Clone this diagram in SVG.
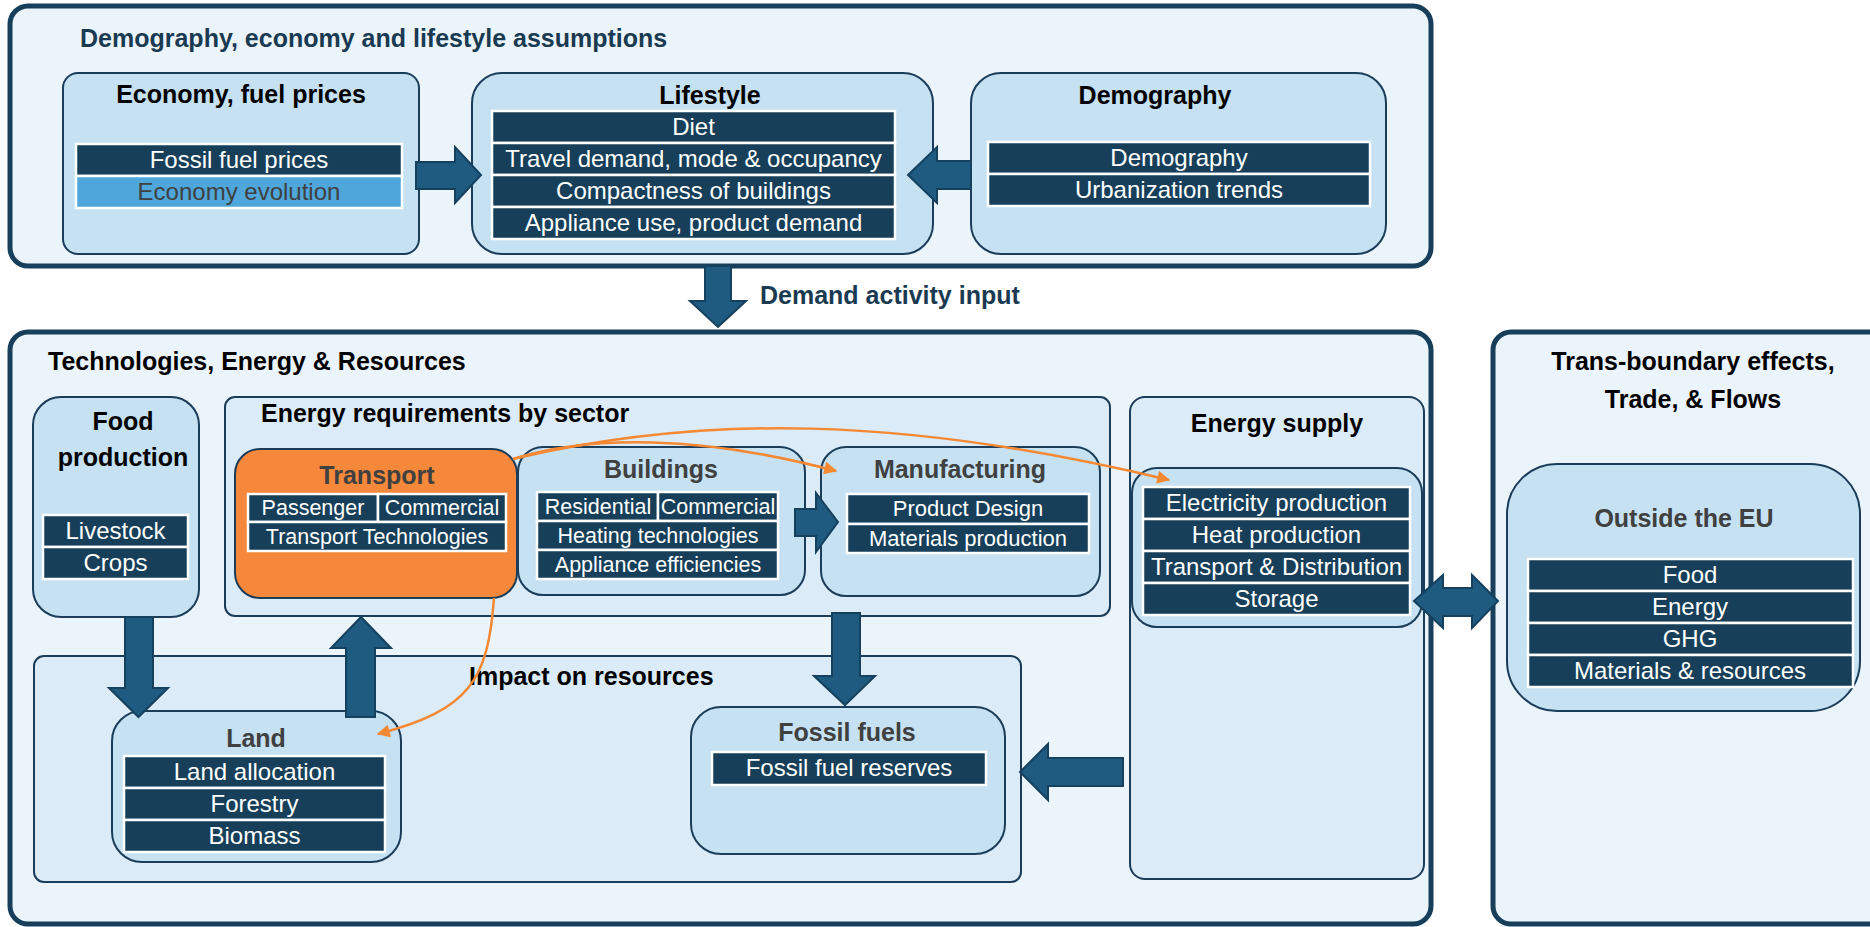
<svg xmlns="http://www.w3.org/2000/svg" width="1870" height="927" viewBox="0 0 1870 927">
<defs>
<style>
.outer{fill:#ebf4fb;stroke:#173f5c;stroke-width:5}
.sub{fill:#dbebf7;stroke:#1b3d5a;stroke-width:2}
.node{fill:#c5e1f2;stroke:#1b3d5a;stroke-width:2}
.orangebox{fill:#f5883a;stroke:#1b3d5a;stroke-width:2}
.row{fill:#173f5a;stroke:#ffffff;stroke-width:2.5}
.rowl{fill:#4ea6da;stroke:#ffffff;stroke-width:2.5}
text{font-family:"Liberation Sans",Arial,sans-serif}
.rt{fill:#ffffff;font-size:24px;text-anchor:middle}
.rs{fill:#ffffff;font-size:21.5px;text-anchor:middle}
.t{font-weight:bold;font-size:25px;fill:#000000}
.c{text-anchor:middle}
.g{fill:#404040}
.navy{fill:#1a3a52}
.big{fill:#1f5a80;stroke:#15405e;stroke-width:2;stroke-linejoin:miter}
.or{fill:none;stroke:#f58833;stroke-width:2.5;marker-end:url(#oh)}
</style>
<marker id="oh" viewBox="0 0 10 10" refX="9" refY="5" markerWidth="16" markerHeight="13" markerUnits="userSpaceOnUse" orient="auto">
<path d="M0,0 L10,5 L0,10 z" fill="#f58833"/>
</marker>
</defs>

<!-- Containers -->
<g id="assumptions">
<rect class="outer" x="10" y="6" width="1421" height="260" rx="18"/>
<text class="t navy" x="80" y="47">Demography, economy and lifestyle assumptions</text>
</g>
<g id="technologies">
<rect class="outer" x="10" y="332" width="1421" height="592" rx="18"/>
<text class="t" x="48" y="370">Technologies, Energy &amp; Resources</text>
</g>
<g id="transboundary">
<rect class="outer" x="1493" y="332" width="420" height="592" rx="18"/>
<text class="t c" x="1693" y="370">Trans-boundary effects,</text>
<text class="t c" x="1693" y="408">Trade, &amp; Flows</text>
</g>

<!-- Top nodes -->
<g id="economy">
<rect class="node" x="63" y="73" width="356" height="181" rx="15"/>
<text class="t c" x="241" y="103">Economy, fuel prices</text>
<rect class="row" x="76" y="144" width="326" height="32"/>
<rect class="rowl" x="76" y="176" width="326" height="32"/>
<text class="rt" x="239" y="168">Fossil fuel prices</text>
<text class="rt g" x="239" y="200">Economy evolution</text>
</g>

<g id="lifestyle">
<rect class="node" x="472" y="73" width="461" height="181" rx="30"/>
<text class="t c" x="710" y="104">Lifestyle</text>
<rect class="row" x="492" y="111" width="403" height="32"/>
<rect class="row" x="492" y="143" width="403" height="32"/>
<rect class="row" x="492" y="175" width="403" height="32"/>
<rect class="row" x="492" y="207" width="403" height="32"/>
<text class="rt" x="693.5" y="135">Diet</text>
<text class="rt" x="693.5" y="167">Travel demand, mode &amp; occupancy</text>
<text class="rt" x="693.5" y="199">Compactness of buildings</text>
<text class="rt" x="693.5" y="231">Appliance use, product demand</text>
</g>

<g id="demography">
<rect class="node" x="971" y="73" width="415" height="181" rx="30"/>
<text class="t c" x="1155" y="104">Demography</text>
<rect class="row" x="988" y="142" width="382" height="32"/>
<rect class="row" x="988" y="174" width="382" height="32"/>
<text class="rt" x="1179" y="166">Demography</text>
<text class="rt" x="1179" y="198">Urbanization trends</text>
</g>

<!-- Middle containers -->
<g id="food">
<rect class="node" x="33" y="397" width="166" height="220" rx="28"/>
<text class="t c" x="123" y="430">Food</text>
<text class="t c" x="123" y="466">production</text>
<rect class="row" x="43" y="515" width="145" height="32"/>
<rect class="row" x="43" y="547" width="145" height="32"/>
<text class="rt" x="115.5" y="539">Livestock</text>
<text class="rt" x="115.5" y="571">Crops</text>
</g>

<g id="energy-requirements">
<rect class="sub" x="225" y="397" width="885" height="219" rx="10"/>
<text class="t" x="261" y="422">Energy requirements by sector</text>
</g>

<g id="transport">
<rect class="orangebox" x="235" y="449" width="282" height="149" rx="25"/>
<text class="t c g" x="377" y="484">Transport</text>
<rect class="row" x="248" y="494" width="130" height="28"/>
<rect class="row" x="378" y="494" width="128" height="28"/>
<rect class="row" x="248" y="522" width="258" height="29"/>
<text class="rs" x="313" y="515">Passenger</text>
<text class="rs" x="442" y="515">Commercial</text>
<text class="rs" x="377" y="544">Transport Technologies</text>
</g>

<g id="buildings">
<rect class="node" x="518" y="447" width="287" height="148" rx="25"/>
<text class="t c g" x="661" y="478">Buildings</text>
<rect class="row" x="537" y="492" width="121" height="29"/>
<rect class="row" x="658" y="492" width="120" height="29"/>
<rect class="row" x="537" y="521" width="241" height="29"/>
<rect class="row" x="537" y="550" width="241" height="29"/>
<text class="rs" x="598" y="514">Residential</text>
<text class="rs" x="718" y="514">Commercial</text>
<text class="rs" x="658" y="543">Heating technologies</text>
<text class="rs" x="658" y="572">Appliance efficiencies</text>
</g>

<g id="manufacturing">
<rect class="node" x="821" y="447" width="279" height="149" rx="25"/>
<text class="t c g" x="960" y="478">Manufacturing</text>
<rect class="row" x="847" y="494" width="242" height="30"/>
<rect class="row" x="847" y="524" width="242" height="29"/>
<text class="rs" x="968" y="516" style="font-size:22px">Product Design</text>
<text class="rs" x="968" y="546" style="font-size:22px">Materials production</text>
</g>

<g id="energy-supply">
<rect class="sub" x="1130" y="397" width="294" height="482" rx="15"/>
<text class="t c" x="1277" y="432">Energy supply</text>
<rect class="node" x="1132" y="468" width="290" height="159" rx="25"/>
<rect class="row" x="1143" y="487" width="267" height="32"/>
<rect class="row" x="1143" y="519" width="267" height="32"/>
<rect class="row" x="1143" y="551" width="267" height="32"/>
<rect class="row" x="1143" y="583" width="267" height="32"/>
<text class="rt" x="1276.5" y="511">Electricity production</text>
<text class="rt" x="1276.5" y="543">Heat production</text>
<text class="rt" x="1276.5" y="575">Transport &amp; Distribution</text>
<text class="rt" x="1276.5" y="607">Storage</text>
</g>

<g id="outside-eu">
<rect class="node" x="1507" y="464" width="353" height="247" rx="50"/>
<text class="t c g" x="1684" y="527">Outside the EU</text>
<rect class="row" x="1528" y="559" width="325" height="32"/>
<rect class="row" x="1528" y="591" width="325" height="32"/>
<rect class="row" x="1528" y="623" width="325" height="32"/>
<rect class="row" x="1528" y="655" width="325" height="32"/>
<text class="rt" x="1690" y="583">Food</text>
<text class="rt" x="1690" y="615">Energy</text>
<text class="rt" x="1690" y="647">GHG</text>
<text class="rt" x="1690" y="679">Materials &amp; resources</text>
</g>

<g id="impact">
<rect class="sub" x="34" y="656" width="987" height="226" rx="10"/>
<text class="t" x="469" y="685">Impact on resources</text>
</g>

<g id="land">
<rect class="node" x="112" y="711" width="289" height="151" rx="30"/>
<text class="t c g" x="256" y="747">Land</text>
<rect class="row" x="124" y="756" width="261" height="32"/>
<rect class="row" x="124" y="788" width="261" height="32"/>
<rect class="row" x="124" y="820" width="261" height="32"/>
<text class="rt" x="254.5" y="780">Land allocation</text>
<text class="rt" x="254.5" y="812">Forestry</text>
<text class="rt" x="254.5" y="844">Biomass</text>
</g>

<g id="fossil-fuels">
<rect class="node" x="691" y="707" width="314" height="147" rx="30"/>
<text class="t c g" x="847" y="741">Fossil fuels</text>
<rect class="row" x="712" y="752" width="274" height="33"/>
<text class="rt" x="849" y="776">Fossil fuel reserves</text>
</g>

<!-- Connectors -->
<g id="connectors">
<polygon class="big" points="416,162 455,162 455,147 481,175 455,203 455,189 416,189"/>
<polygon class="big" points="971,161 937,161 937,147 908,175 937,203 937,189 971,189"/>
<polygon class="big" points="705,266 731,266 731,301 746,301 718,327 690,301 705,301"/>
<text class="t navy" x="760" y="304">Demand activity input</text>
<polygon class="big" points="795,509 816,509 816,493 838,522 816,552 816,536 795,536"/>
<polygon class="big" points="125,617 153,617 153,688 168,688 138.5,717 109,688 125,688"/>
<polygon class="big" points="346,717 375,717 375,648 391,648 361,617 331,648 346,648"/>
<polygon class="big" points="832,613 860,613 860,676 875,676 845,705 814,676 832,676"/>
<polygon class="big" points="1123,758 1048,758 1048,744 1020,772 1048,800 1048,786 1123,786"/>
<polygon class="big" points="1414,601 1443,575 1443,588 1472,588 1472,575 1498,601 1472,628 1472,616 1443,616 1443,628"/>
<path class="or" d="M513,459 C700,415 900,415 1169,480"/>
<path class="or" d="M513,459 C590,435 700,435 836,471"/>
<path class="or" d="M494,598 C488,680 470,710 378,734"/>
</g>
</svg>
